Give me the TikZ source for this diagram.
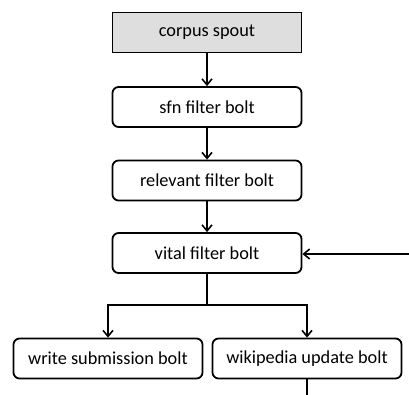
\documentclass[tikz,border=0pt]{standalone}
\usepackage{fontspec}
\setmainfont{Carlito}
\usetikzlibrary{arrows.meta}
\begin{document}
\begin{tikzpicture}[x=1pt,y=-1pt,
  box/.style={draw,line width=1.8pt,rounded corners=6pt,minimum width=189pt,minimum height=40pt,inner sep=0pt,font=\fontsize{18.3}{20}\selectfont},
  spout/.style={box,rounded corners=0pt,fill=black!13},
  conn/.style={line width=2pt,-{Straight Barb[length=6pt,width=10pt,line width=1.6pt]}}]
\useasboundingbox (0,0) rectangle (409,395);
\node[spout] (cs) at (207,32.5) {corpus spout};
\node[box] (sfn) at (207,107) {sfn filter bolt};
\node[box] (rel) at (207,180.5) {relevant filter bolt};
\node[box] (vit) at (207,253) {vital filter bolt};
\node[box] (ws) at (108,358.5) {write submission bolt};
\node[box] (wu) at (307,358.5) {wikipedia update bolt};
\coordinate (split) at (207,305);
\coordinate (in) at (409,254);
\coordinate (out) at (307,395);
\draw[conn] (cs) -- (sfn);
\draw[conn] (sfn) -- (rel);
\draw[conn] (rel) -- (vit);
\draw[conn] (in) -- (vit.east |- in);
\draw[line width=2pt] (vit.south) -- (split);
\draw[conn] (split) -| (ws.north);
\draw[conn] (split) -| (wu.north);
\draw[line width=2pt] (wu.south) -- (out);
\end{tikzpicture}
\end{document}
